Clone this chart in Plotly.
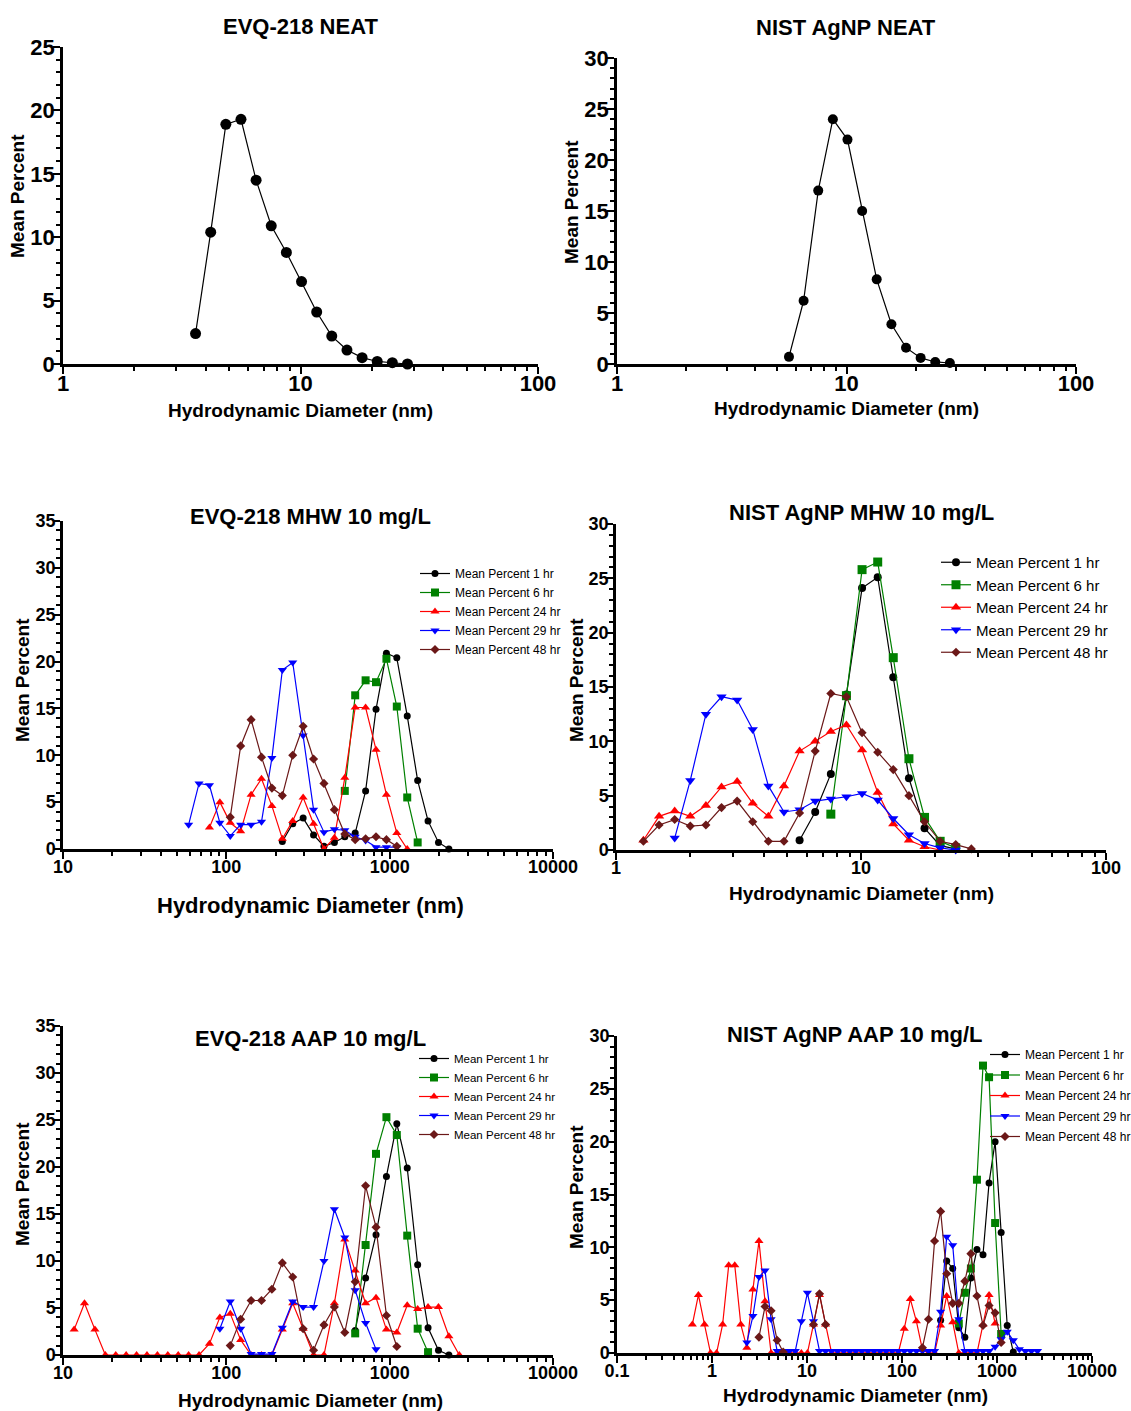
import plotly.graph_objects as go

W, H = 1131, 1411
FONT = "Liberation Sans, Arial, sans-serif"

# ---------------- DATA ----------------
# Panel 1: EVQ-218 NEAT
neat_evq_x = [3.615, 4.187, 4.849, 5.615, 6.503, 7.531, 8.721, 10.1, 11.7, 13.54, 15.69, 18.17, 21.04, 24.36, 28.21]
neat_evq_y = [2.4, 10.4, 18.9, 19.3, 14.5, 10.9, 8.8, 6.5, 4.1, 2.2, 1.1, 0.5, 0.2, 0.1, 0.0]

# Panel 2: NIST AgNP NEAT
neat_nist_x = [5.615, 6.503, 7.531, 8.721, 10.1, 11.7, 13.54, 15.69, 18.17, 21.04, 24.36, 28.21]
neat_nist_y = [0.7, 6.2, 17.0, 24.0, 22.0, 15.0, 8.3, 3.9, 1.6, 0.6, 0.2, 0.1]

# Panel 3: EVQ-218 MHW 10 mg/L
mhw_evq_1_x = [220.2, 255, 295.3, 342, 396.1, 458.7, 531.2, 615.1, 712.4, 825, 955.4, 1106, 1281, 1484, 1718, 1990, 2305]
mhw_evq_1_y = [0.8, 2.7, 3.3, 1.5, 0.3, 0.7, 1.3, 1.7, 6.2, 14.9, 20.9, 20.4, 14.2, 7.3, 3.0, 0.7, 0.0]
mhw_evq_6_x = [531.2, 615.1, 712.4, 825, 955.4, 1106, 1281, 1484]
mhw_evq_6_y = [6.2, 16.4, 18.0, 17.8, 20.3, 15.2, 5.5, 0.7]
mhw_evq_24_x = [78.82, 91.28, 105.7, 122.4, 141.8, 164.2, 190.1, 220.2, 255, 295.3, 342, 396.1, 458.7, 531.2, 615.1, 712.4, 825, 955.4, 1106, 1281]
mhw_evq_24_y = [2.3, 5.0, 2.8, 1.9, 5.8, 7.5, 4.6, 1.1, 3.0, 5.5, 2.7, 0.0, 1.2, 7.6, 15.1, 15.1, 10.6, 5.8, 1.7, 0.0]
mhw_evq_29_x = [58.77, 68.06, 78.82, 91.28, 105.7, 122.4, 141.8, 164.2, 190.1, 220.2, 255, 295.3, 342, 396.1, 458.7, 531.2, 615.1, 712.4, 825, 955.4, 1106]
mhw_evq_29_y = [2.6, 7.0, 6.8, 2.8, 1.4, 2.6, 2.6, 2.9, 9.7, 19.1, 19.9, 12.1, 4.2, 1.8, 2.1, 2.0, 1.3, 0.9, 0.2, 0.2, 0.2]
mhw_evq_48_x = [105.7, 122.4, 141.8, 164.2, 190.1, 220.2, 255, 295.3, 342, 396.1, 458.7, 531.2, 615.1, 712.4, 825, 955.4, 1106]
mhw_evq_48_y = [3.4, 11.0, 13.8, 9.8, 6.5, 5.7, 10.0, 13.1, 9.6, 7.0, 4.2, 1.6, 1.0, 1.1, 1.3, 1.0, 0.3]

# Panel 4: NIST AgNP MHW 10 mg/L
mhw_nist_1_x = [5.615, 6.503, 7.531, 8.721, 10.1, 11.7, 13.54, 15.69, 18.17, 21.04, 24.36]
mhw_nist_1_y = [0.9, 3.5, 7.0, 14.3, 24.1, 25.1, 15.9, 6.6, 2.0, 0.4, 0.1]
mhw_nist_6_x = [7.531, 8.721, 10.1, 11.7, 13.54, 15.69, 18.17, 21.04, 24.36]
mhw_nist_6_y = [3.3, 14.2, 25.8, 26.5, 17.7, 8.4, 3.0, 0.8, 0.2]
mhw_nist_24_x = [1.294, 1.499, 1.736, 2.01, 2.328, 2.696, 3.122, 3.615, 4.187, 4.849, 5.615, 6.503, 7.531, 8.721, 10.1, 11.7, 13.54, 15.69, 18.17, 21.04]
mhw_nist_24_y = [0.9, 3.1, 3.6, 3.1, 4.1, 5.8, 6.3, 4.3, 3.1, 5.9, 9.1, 10.0, 10.9, 11.5, 9.2, 5.3, 2.4, 0.9, 0.3, 0.0]
mhw_nist_29_x = [1.736, 2.01, 2.328, 2.696, 3.122, 3.615, 4.187, 4.849, 5.615, 6.503, 7.531, 8.721, 10.1, 11.7, 13.54, 15.69, 18.17, 21.04, 24.36]
mhw_nist_29_y = [1.1, 6.4, 12.5, 14.1, 13.8, 11.1, 5.9, 3.5, 3.7, 4.5, 4.7, 4.9, 5.2, 4.6, 2.9, 1.4, 0.6, 0.2, 0.0]
mhw_nist_48_x = [1.294, 1.499, 1.736, 2.01, 2.328, 2.696, 3.122, 3.615, 4.187, 4.849, 5.615, 6.503, 7.531, 8.721, 10.1, 11.7, 13.54, 15.69, 18.17, 21.04, 24.36, 28.21]
mhw_nist_48_y = [0.8, 2.3, 2.8, 2.2, 2.3, 3.9, 4.5, 2.6, 0.8, 0.8, 3.4, 9.1, 14.4, 14.1, 10.8, 9.0, 7.4, 5.0, 2.6, 0.8, 0.5, 0.1]

# Panel 5: EVQ-218 AAP 10 mg/L
aap_evq_1_x = [615.1, 712.4, 825, 955.4, 1106, 1281, 1484, 1718, 1990, 2305]
aap_evq_1_y = [2.6, 8.2, 12.8, 19.0, 24.6, 19.9, 9.6, 2.9, 0.5, 0.0]
aap_evq_6_x = [615.1, 712.4, 825, 955.4, 1106, 1281, 1484, 1718]
aap_evq_6_y = [2.3, 11.7, 21.4, 25.3, 23.4, 12.7, 2.8, 0.3]
aap_evq_24_x = [11.7, 13.54, 15.69, 18.17, 21.04, 24.36, 28.21, 32.67, 37.84, 43.82, 50.75, 58.77, 68.06,
                78.82, 91.28, 105.7, 122.4, 141.8, 164.2, 190.1,
                220.2, 255, 295.3, 342, 396.1, 458.7, 531.2, 615.1, 712.4, 825, 955.4,
                1106, 1281, 1484, 1718, 1990, 2305, 2669]
aap_evq_24_y = [2.7, 5.5, 2.7, 0, 0, 0, 0, 0, 0, 0, 0, 0, 0,
                1.2, 4.0, 4.4, 1.6, 0, 0, 0,
                2.7, 5.5, 2.8, 0, 0, 5.5, 12.3, 9.0, 5.5, 6.1, 2.7,
                2.4, 5.3, 4.9, 5.1, 5.1, 2.0, 0]
aap_evq_29_x = [91.28, 105.7, 122.4, 141.8, 164.2, 190.1, 220.2, 255, 295.3, 342, 396.1, 458.7, 531.2, 615.1, 712.4, 825]
aap_evq_29_y = [2.8, 5.7, 2.8, 0.1, 0.1, 0.1, 2.9, 5.7, 5.1, 5.1, 10.0, 15.5, 12.5, 6.9, 3.4, 0.6]
aap_evq_48_x = [105.7, 122.4, 141.8, 164.2, 190.1, 220.2, 255, 295.3, 342, 396.1, 458.7, 531.2, 615.1, 712.4, 825, 955.4, 1106]
aap_evq_48_y = [1.0, 3.8, 5.8, 5.8, 7.0, 9.8, 8.3, 2.8, 0.5, 3.2, 5.1, 2.4, 7.8, 18.0, 13.6, 4.2, 0.9]

# Panel 6: NIST AgNP AAP 10 mg/L
aap_nist_1_x = [255, 295.3, 342, 396.1, 458.7, 531.2, 615.1, 712.4, 825, 955.4, 1106, 1281, 1484]
aap_nist_1_y = [3.1, 8.7, 8.0, 2.4, 1.5, 7.1, 9.8, 9.3, 16.1, 20.0, 11.4, 2.6, 0.1]
aap_nist_6_x = [396.1, 458.7, 531.2, 615.1, 712.4, 825, 955.4, 1106]
aap_nist_6_y = [2.8, 5.7, 8.0, 16.4, 27.2, 26.1, 12.3, 1.8]
aap_nist_24_x = [0.6213, 0.7195, 0.8332, 0.9649,
                 1.117, 1.294, 1.499, 1.736, 2.01, 2.328, 2.696, 3.122, 3.615,
                 4.187, 4.849, 5.615, 6.503, 7.531, 8.721, 10.1,
                 11.7, 13.54, 15.69,
                 18.17, 21.04, 24.36, 28.21, 32.67, 37.84, 43.82, 50.75, 58.77, 68.06, 78.82, 91.28,
                 105.7, 122.4, 141.8, 164.2, 190.1, 220.2, 255, 295.3, 342, 396.1, 458.7, 531.2, 615.1, 712.4, 825, 955.4]
aap_nist_24_y = [2.7, 5.5, 2.7, 0,
                 0, 2.7, 8.3, 8.3, 2.7, 0.5, 6.0, 10.6, 4.9,
                 0, 0, 0, 0, 0, 0, 0,
                 2.7, 5.5, 2.7,
                 0, 0, 0, 0, 0, 0, 0, 0, 0, 0, 0, 0,
                 2.3, 5.1, 3.0, 0.3, 0, 0, 2.6, 5.4, 2.9, 0, 0, 0, 0, 2.7, 5.5, 2.8]
aap_nist_29_x = [2.328, 2.696, 3.122, 3.615, 4.187,
                 4.849, 5.615, 6.503, 7.531, 8.721, 10.1,
                 11.7, 13.54, 15.69, 18.17, 21.04, 24.36,
                 28.21, 32.67, 37.84, 43.82, 50.75, 58.77, 68.06, 78.82, 91.28,
                 105.7, 122.4, 141.8, 164.2, 190.1, 220.2,
                 255, 295.3, 342, 396.1, 458.7, 531.2, 615.1, 712.4, 825,
                 955.4, 1106, 1281, 1484, 1718, 1990, 2305, 2669]
aap_nist_29_y = [1.0, 3.5, 7.2, 7.8, 3.2,
                 0.2, 0.2, 0.2, 0.2, 3.0, 5.7,
                 3.0, 0.2, 0.2, 0.2, 0.2, 0.2,
                 0.2, 0.2, 0.2, 0.2, 0.2, 0.2, 0.2, 0.2, 0.2,
                 0.2, 0.2, 0.2, 0.2, 0.2, 0.2,
                 3.9, 11.0, 10.2, 3.2, 0.2, 0.2, 0.2, 0.2, 0.2,
                 0.6, 1.3, 2.0, 1.2, 0.35, 0.2, 0.2, 0.2]
aap_nist_48_x = [3.122, 3.615, 4.187, 4.849, 5.615, 8.0,
                 11.7, 13.54, 15.69, 50.0,
                 164.2, 190.1, 220.2, 255, 295.3, 342, 396.1, 458.7, 531.2, 615.1, 712.4, 825, 955.4, 1106]
aap_nist_48_y = [1.5, 4.4, 4.0, 1.2, 0.1, None,
                 2.7, 5.6, 2.7, None,
                 0.5, 3.2, 10.6, 13.4, 7.5, 4.7, 4.7, 6.8, 9.4, 5.4, 2.6, 4.5, 3.8, 1.0]

series_names = ["Mean Percent 1 hr", "Mean Percent 6 hr", "Mean Percent 24 hr", "Mean Percent 29 hr", "Mean Percent 48 hr"]
series_colors = ["#000000", "#008000", "#ff0000", "#0000ff", "#6b1818"]
series_symbols = ["circle", "square", "triangle-up", "triangle-down", "diamond"]

titles = ["EVQ-218 NEAT", "NIST AgNP NEAT", "EVQ-218 MHW 10 mg/L",
          "NIST AgNP MHW 10 mg/L", "EVQ-218 AAP 10 mg/L", "NIST AgNP AAP 10 mg/L"]
x_title = "Hydrodynamic Diameter (nm)"
y_title = "Mean Percent"

# ---------------- FIGURE ----------------
fig = go.Figure()


def fx(p):
    return p / W


def fy(p):
    return 1 - p / H


# panel geometry in pixels: (x_left, x_right, y_top, y_bottom), log exponent range, y max, tick font
panels = [
    dict(px=(63, 538, 47, 364), xr=(0, 2), ymax=25, tf=22, so=-9),
    dict(px=(617, 1076, 58, 364), xr=(0, 2), ymax=30, tf=22, so=-9),
    dict(px=(63, 553, 521, 849), xr=(1, 4), ymax=35, tf=18, so=-7),
    dict(px=(616, 1106, 524, 850), xr=(0, 2), ymax=30, tf=18, so=-7),
    dict(px=(63, 553, 1026, 1355), xr=(1, 4), ymax=35, tf=18, so=-7),
    dict(px=(617, 1092, 1036, 1353), xr=(-1, 4), ymax=30, tf=18, so=-7),
]


def fmt(e):
    v = 10.0 ** e
    return ("%g" % v) if e < 0 else str(int(round(v)))


for i, p in enumerate(panels, start=1):
    x0, x1, y0, y1 = p["px"]
    lo, hi = p["xr"]
    major = [10.0 ** e for e in range(lo, hi + 1)]
    minor = [m * 10.0 ** e for e in range(lo, hi) for m in range(2, 10)]
    sfx = "" if i == 1 else str(i)
    xa = dict(
        domain=[fx(x0), fx(x1)], type="log", range=[lo, hi], anchor="y" + sfx,
        showline=True, linecolor="black", linewidth=2.5,
        ticks="outside", ticklen=7, tickwidth=2, tickcolor="black",
        tickmode="array", tickvals=major, ticktext=[fmt(e) for e in range(lo, hi + 1)],
        tickfont=dict(family=FONT, size=p["tf"], color="black", weight="bold"),
        ticklabelstandoff=p["so"],
        minor=dict(tickmode="array", tickvals=minor, ticks="outside", ticklen=4, tickwidth=1.5, tickcolor="black"),
        showgrid=False, zeroline=False, fixedrange=True, automargin=False,
    )
    ya = dict(
        domain=[fy(y1), fy(y0)], range=[0, p["ymax"]], anchor="x" + sfx,
        showline=True, linecolor="black", linewidth=2.5,
        ticks="outside", ticklen=7, tickwidth=2, tickcolor="black",
        dtick=5, tick0=0,
        tickfont=dict(family=FONT, size=p["tf"], color="black", weight="bold"),
        ticklabelstandoff=-6,
        minor=dict(dtick=1, ticks="outside", ticklen=4, tickwidth=1.5, tickcolor="black"),
        showgrid=False, zeroline=False, fixedrange=True, automargin=False,
    )
    fig.update_layout(**{"xaxis" + sfx: xa, "yaxis" + sfx: ya})

# NEAT panels
fig.add_trace(go.Scatter(x=neat_evq_x, y=neat_evq_y, mode="lines+markers", xaxis="x", yaxis="y",
                         line=dict(color="black", width=1.2), marker=dict(color="black", size=11, symbol="circle"),
                         showlegend=False, cliponaxis=False))
fig.add_trace(go.Scatter(x=neat_nist_x, y=neat_nist_y, mode="lines+markers", xaxis="x2", yaxis="y2",
                         line=dict(color="black", width=1.2), marker=dict(color="black", size=10, symbol="circle"),
                         showlegend=False, cliponaxis=False))

groups = [
    (3, "legend", [(mhw_evq_1_x, mhw_evq_1_y), (mhw_evq_6_x, mhw_evq_6_y), (mhw_evq_24_x, mhw_evq_24_y),
                   (mhw_evq_29_x, mhw_evq_29_y), (mhw_evq_48_x, mhw_evq_48_y)], [7, 8, 8, 8, 7]),
    (4, "legend2", [(mhw_nist_1_x, mhw_nist_1_y), (mhw_nist_6_x, mhw_nist_6_y), (mhw_nist_24_x, mhw_nist_24_y),
                    (mhw_nist_29_x, mhw_nist_29_y), (mhw_nist_48_x, mhw_nist_48_y)], [8, 9, 9, 9, 7]),
    (5, "legend3", [(aap_evq_1_x, aap_evq_1_y), (aap_evq_6_x, aap_evq_6_y), (aap_evq_24_x, aap_evq_24_y),
                    (aap_evq_29_x, aap_evq_29_y), (aap_evq_48_x, aap_evq_48_y)], [7, 8, 8, 8, 7]),
    (6, "legend4", [(aap_nist_1_x, aap_nist_1_y), (aap_nist_6_x, aap_nist_6_y), (aap_nist_24_x, aap_nist_24_y),
                    (aap_nist_29_x, aap_nist_29_y), (aap_nist_48_x, aap_nist_48_y)], [7, 8, 8, 8, 7]),
]

for pi, leg, data, sizes in groups:
    for k, (xs, ys) in enumerate(data):
        fig.add_trace(go.Scatter(
            x=xs, y=ys, mode="lines+markers", name=series_names[k],
            xaxis="x%d" % pi, yaxis="y%d" % pi, legend=leg,
            legendgroup=("p6_%d" % k) if pi == 6 else None,
            line=dict(color=series_colors[k], width=1.2),
            marker=dict(color=series_colors[k], size=sizes[k], symbol=series_symbols[k]),
            cliponaxis=False,
        ))

legend_common = dict(bgcolor="rgba(0,0,0,0)", borderwidth=0, xanchor="left", yanchor="top",
                     itemsizing="trace", itemclick=False, itemdoubleclick=False)
fig.update_layout(
    legend=dict(x=fx(415), y=fy(559), font=dict(family=FONT, size=12, color="black"), **legend_common),
    legend2=dict(x=fx(936), y=fy(546), font=dict(family=FONT, size=15, color="black"), **legend_common),
    legend3=dict(x=fx(414), y=fy(1044), font=dict(family=FONT, size=11.5, color="black"), **legend_common),
    legend4=dict(x=fx(985), y=fy(1040), font=dict(family=FONT, size=12, color="black"),
                 tracegroupgap=1.5, **legend_common),
)

annotations = []
title_pos = [(300, 26), (846, 28), (310, 516), (861, 512), (310, 1038), (855, 1034)]
xt_pos = [(300, 410, 19), (846, 408, 19), (310, 905, 22), (861, 893, 19), (310, 1400, 19), (855, 1395, 19)]
yt_pos = [(18, 196), (572, 202), (22, 680), (576, 680), (22, 1184), (576, 1187)]
for t, (cx, cy) in zip(titles, title_pos):
    annotations.append(dict(text=t, x=fx(cx), y=fy(cy), xref="paper", yref="paper", showarrow=False,
                            xanchor="center", yanchor="middle",
                            font=dict(family=FONT, size=22, color="black", weight="bold")))
for cx, cy, s in xt_pos:
    annotations.append(dict(text=x_title, x=fx(cx), y=fy(cy), xref="paper", yref="paper", showarrow=False,
                            xanchor="center", yanchor="middle",
                            font=dict(family=FONT, size=s, color="black", weight="bold")))
for cx, cy in yt_pos:
    annotations.append(dict(text=y_title, x=fx(cx), y=fy(cy), xref="paper", yref="paper", showarrow=False,
                            xanchor="center", yanchor="middle", textangle=-90,
                            font=dict(family=FONT, size=19, color="black", weight="bold")))

fig.update_layout(
    width=W, height=H, margin=dict(l=0, r=0, t=0, b=0, pad=0, autoexpand=False),
    paper_bgcolor="white", plot_bgcolor="white",
    font=dict(family=FONT, color="black"),
    annotations=annotations,
)

fig.write_html("out.html", config={"displayModeBar": False},
               post_script="document.body.style.margin='0px';document.body.style.overflow='hidden';")
